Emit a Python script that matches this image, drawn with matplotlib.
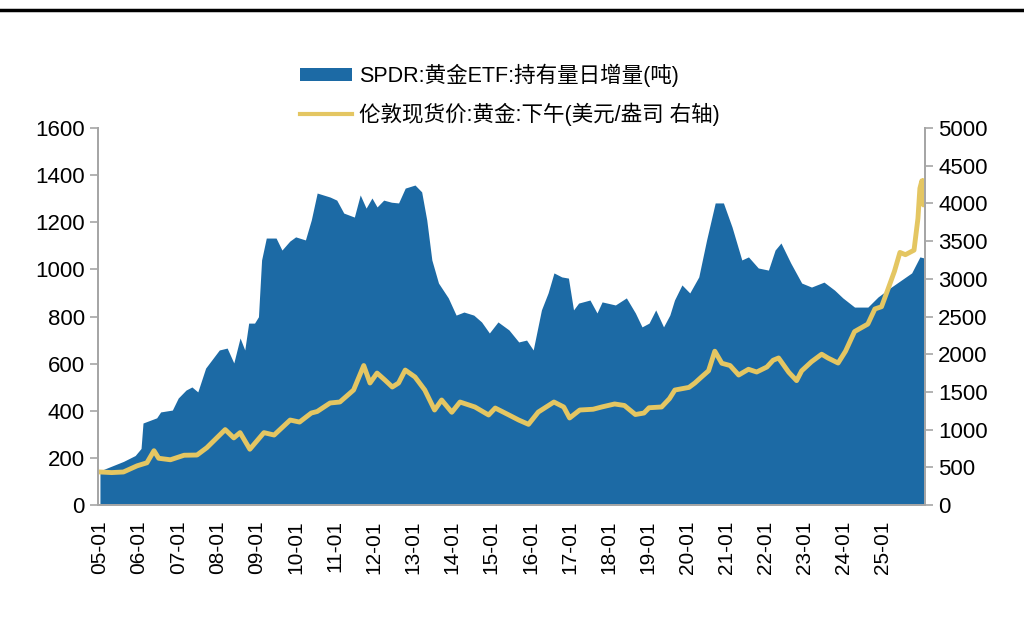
import numpy as np
import matplotlib.pyplot as plt
from matplotlib.patches import Patch
from matplotlib.lines import Line2D

plt.rcParams['font.family'] = ['Liberation Sans', 'Noto Sans CJK SC', 'DejaVu Sans']

# SPDR 黄金ETF 持有量 (吨), x = 年份(小数)
etf_t = [2005.00, 2005.30, 2005.60, 2005.90, 2006.05, 2006.10, 2006.45, 2006.55, 2006.85,
         2007.00, 2007.20, 2007.35, 2007.50, 2007.70, 2008.05, 2008.25, 2008.42, 2008.58,
         2008.70, 2008.80, 2008.95, 2009.05, 2009.13, 2009.25, 2009.50, 2009.65, 2009.85,
         2010.00, 2010.25, 2010.40, 2010.55, 2010.88, 2011.05, 2011.23, 2011.50, 2011.65,
         2011.80, 2011.95, 2012.08, 2012.25, 2012.45, 2012.63, 2012.80, 2013.05, 2013.22,
         2013.35, 2013.48, 2013.65, 2013.90, 2014.10, 2014.30, 2014.55, 2014.75, 2014.95,
         2015.17, 2015.45, 2015.70, 2015.90, 2016.07, 2016.28, 2016.45, 2016.60, 2016.80,
         2016.97, 2017.10, 2017.23, 2017.52, 2017.70, 2017.83, 2018.17, 2018.45, 2018.68,
         2018.85, 2019.03, 2019.20, 2019.40, 2019.56, 2019.68, 2019.87, 2020.07, 2020.30,
         2020.50, 2020.72, 2020.93, 2021.15, 2021.40, 2021.57, 2021.82, 2022.08, 2022.25,
         2022.40, 2022.65, 2022.93, 2023.18, 2023.50, 2023.77, 2023.98, 2024.28, 2024.62,
         2024.88, 2025.22, 2025.48, 2025.74, 2025.95, 2026.07]
etf_v = [145, 165, 185, 210, 240, 348, 370, 395, 403,
         454, 488, 501, 480, 581, 658, 666, 603, 709,
         658, 772, 772, 799, 1040, 1133, 1133, 1082, 1120,
         1138, 1125, 1210, 1324, 1307, 1294, 1239, 1222, 1316,
         1260, 1303, 1265, 1294, 1285, 1282, 1345, 1358, 1329,
         1210, 1040, 942, 879, 806, 819, 806, 777, 730,
         777, 743, 692, 700, 658, 828, 900, 985, 968,
         963, 828, 857, 870, 815, 862, 849, 879, 815,
         756, 772, 828, 756, 806, 870, 934, 900, 968,
         1125, 1282, 1282, 1180, 1040, 1053, 1006, 997, 1082,
         1112, 1027, 942, 925, 946, 912, 879, 840, 840,
         883, 925, 955, 985, 1053, 1048]

# 伦敦现货价:黄金:下午 (美元/盎司)
gold_t = [2005.00, 2005.30, 2005.60, 2005.95, 2006.20, 2006.38, 2006.50, 2006.80, 2007.15,
          2007.48, 2007.73, 2008.20, 2008.42, 2008.58, 2008.83, 2009.19, 2009.45, 2009.86,
          2010.10, 2010.40, 2010.55, 2010.88, 2011.13, 2011.48, 2011.74, 2011.90, 2012.08,
          2012.28, 2012.47, 2012.63, 2012.80, 2013.05, 2013.30, 2013.55, 2013.73, 2013.99,
          2014.20, 2014.58, 2014.93, 2015.10, 2015.45, 2015.70, 2015.95, 2016.20, 2016.60,
          2016.85, 2017.00, 2017.26, 2017.60, 2017.82, 2018.15, 2018.40, 2018.68, 2018.90,
          2019.03, 2019.35, 2019.55, 2019.69, 2020.05, 2020.20, 2020.37, 2020.55, 2020.71,
          2020.89, 2021.10, 2021.32, 2021.57, 2021.78, 2022.04, 2022.20, 2022.34, 2022.60,
          2022.80, 2022.93, 2023.18, 2023.44, 2023.60, 2023.86, 2024.05, 2024.28, 2024.45,
          2024.62, 2024.80, 2024.97, 2025.14, 2025.30, 2025.44, 2025.58, 2025.80, 2025.90,
          2025.95, 2026.00, 2026.04, 2026.07]
gold_v = [438, 430, 438, 520, 560, 720, 620, 600, 660,
          663, 760, 1000, 890, 960, 740, 960, 928, 1127,
          1100, 1220, 1240, 1353, 1366, 1525, 1850, 1618, 1750,
          1658, 1565, 1618, 1790, 1698, 1525, 1260, 1393, 1230,
          1366, 1300, 1194, 1286, 1194, 1127, 1070, 1233, 1366,
          1300, 1154, 1260, 1270, 1300, 1340, 1320, 1200, 1220,
          1290, 1300, 1410, 1525, 1560, 1618, 1698, 1780, 2040,
          1880, 1850, 1724, 1800, 1764, 1830, 1920, 1950, 1760,
          1650, 1780, 1900, 2000, 1950, 1883, 2040, 2300, 2350,
          2400, 2600, 2630, 2870, 3100, 3350, 3320, 3380, 3800,
          4200, 4300, 3980, 4300]

tick_years = list(range(2005, 2026))
tick_labels = ['%02d-01' % (y % 100) for y in tick_years]

fig = plt.figure(figsize=(10.24, 6.3), dpi=100)
ax = fig.add_axes([0.0957, 0.1984, 0.8076, 0.5984])
ax2 = ax.twinx()

blue = '#1C6AA5'
gold = '#E4C662'
grey = '#A6A6A6'

ax.fill_between(etf_t, etf_v, 0, color=blue, linewidth=0)
ax2.plot(gold_t, gold_v, color=gold, linewidth=3.5)

ax.set_xlim(2004.95, 2026.08)
ax.set_ylim(0, 1600)
ax.set_yticks(np.arange(0, 1601, 200))
ax2.set_ylim(0, 5000)
ax2.set_yticks(np.arange(0, 5001, 500))

ax.set_xticks(tick_years)
ax.set_xticklabels(tick_labels, rotation=90, fontsize=15)
ax.tick_params(axis='x', length=0, pad=11)
ax.tick_params(axis='y', labelsize=16, color=grey, length=6, width=1.2)
ax2.tick_params(axis='y', labelsize=16, color=grey, length=6, width=1.2)

for a in (ax, ax2):
    a.spines['top'].set_visible(False)
    for s in ('left', 'right', 'bottom'):
        a.spines[s].set_color(grey)
        a.spines[s].set_linewidth(1.4)

handles = [Patch(facecolor=blue, edgecolor='none'),
           Line2D([0], [0], color=gold, linewidth=3)]
labels = ['SPDR:黄金ETF:持有量日增量(吨)', '伦敦现货价:黄金:下午(美元/盎司 右轴)']
fig.legend(handles, labels, loc='upper center', bbox_to_anchor=(0.498, 0.93),
           frameon=False, fontsize=15.5, handlelength=2.4, handleheight=0.55,
           handletextpad=0.35, labelspacing=0.75)

# 顶部分隔线
fig.add_artist(Line2D([0, 1], [0.984, 0.984], transform=fig.transFigure,
                      color='black', linewidth=2.5))

fig.savefig('out.png', dpi=100)
